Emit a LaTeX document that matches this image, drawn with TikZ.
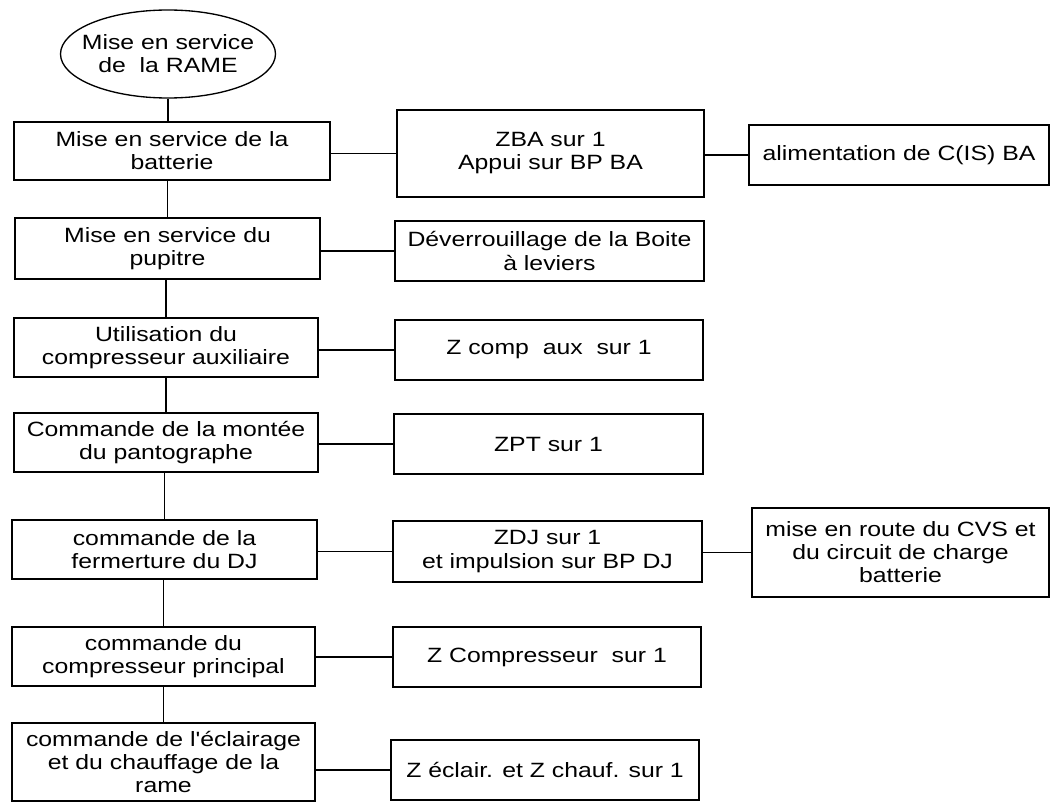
\documentclass[tikz,border=0pt]{standalone}
\usepackage{fontspec}
\setmainfont{Liberation Sans}[FakeStretch=1.2,Ligatures=TeXOff]
\usetikzlibrary{shapes.geometric}
\begin{document}
\begin{tikzpicture}[x=0.75pt,y=-0.75pt,line width=1pt,
  wh/.style 2 args={minimum width={#1*0.75pt},minimum height={#2*0.75pt}},
  box/.style={draw,rectangle,align=center,inner sep=0pt,
    font=\fontsize{15.5}{17.3}\selectfont},
  oval/.style={draw,ellipse,inner sep=0pt},
  lbl/.style={align=center,inner sep=0pt,font=\fontsize{15.5}{17.3}\selectfont},
  link/.style={line width=1pt}]
\useasboundingbox (0,0) rectangle (1050,802);
% start ellipse
\node[oval,wh={215}{88}] (E) at (168,54) {};
\node[lbl] (Et) at (E.center) {Mise en service\\de\ \ la RAME};
% left column
\node[box,wh={316}{58}] (B1) at (172,151) {Mise en service de la\\batterie};
\node[box,wh={305}{61}] (B2) at (167.5,248.5) {Mise en service du\\pupitre};
\node[box,wh={304}{59}] (B3) at (166,347.5) {Utilisation du\\compresseur auxiliaire};
\node[box,wh={304}{59}] (B4) at (166,442.5) {Commande de la montée\\du pantographe};
\node[box,wh={305}{59}] (B5) at (164.5,549.5) {commande de la\\fermerture du DJ};
\node[box,wh={303}{59}] (B6) at (163.5,656.5) {commande du\\compresseur principal};
\node[box,wh={303}{78}] (B7) at (163.5,762) {commande de l'éclairage\\et du chauffage de la\\rame};
% middle column
\node[box,wh={307}{87}] (M1) at (550.5,153.5) {ZBA sur 1\\Appui sur BP BA};
\node[box,wh={309}{60}] (M2) at (549.5,251) {Déverrouillage de la Boite\\à leviers};
\node[box,wh={308}{60}] (M3) at (549,350) {Z comp\ \ aux\ \ sur 1};
\node[box,wh={309}{60}] (M4) at (548.5,444) {ZPT sur 1};
\node[box,wh={309}{61}] (M5) at (547.5,551.5) {ZDJ sur 1\\et impulsion sur BP DJ};
\node[box,wh={308}{60}] (M6) at (547,657) {Z Compresseur\ \ sur 1};
\node[box,wh={308}{60}] (M7) at (545,770) {Z éclair. et Z chauf. sur 1};
% right column
\node[box,wh={300}{60}] (R1) at (899,155) {alimentation de C(IS) BA};
\node[box,wh={297}{89}] (R5) at (900.5,552.5) {mise en route du CVS et\\du circuit de charge\\batterie};
% spine
\draw[link] (E.south) -- (E.south |- B1.north);
\draw[link] (B2.north) -- (B2.north |- B1.south);
\draw[link] (B3.north) -- (B3.north |- B2.south);
\draw[link] (B4.north) -- (B4.north |- B3.south);
\draw[link] (B5.north) -- (B5.north |- B4.south);
\draw[link] (B6.north) -- (B6.north |- B5.south);
\draw[link] (B7.north) -- (B7.north |- B6.south);
% branches
\draw[link] (M1.west -| B1.east) -- (M1.west);
\draw[link] (M2.west -| B2.east) -- (M2.west);
\draw[link] (M3.west -| B3.east) -- (M3.west);
\draw[link] (M4.west -| B4.east) -- (M4.west);
\draw[link] (M5.west -| B5.east) -- (M5.west);
\draw[link] (M6.west -| B6.east) -- (M6.west);
\draw[link] (M7.west -| B7.east) -- (M7.west);
\draw[link] (R1.west -| M1.east) -- (R1.west);
\draw[link] (R5.west -| M5.east) -- (R5.west);
\end{tikzpicture}
\end{document}
